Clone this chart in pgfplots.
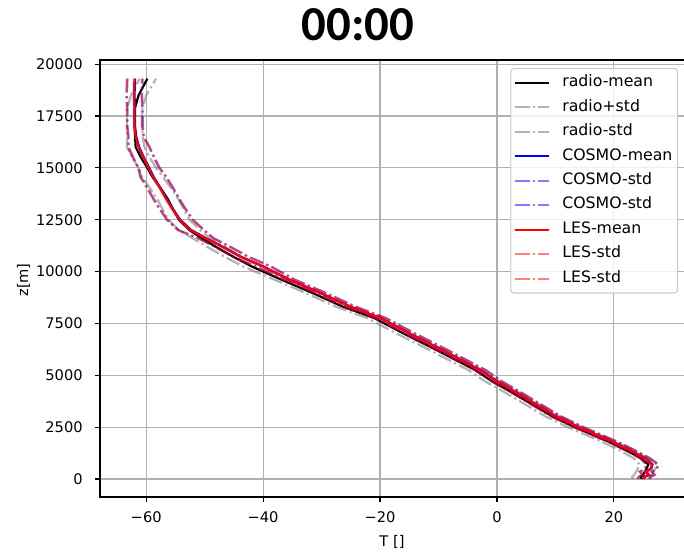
\documentclass[border=0pt]{standalone}
\usepackage{fontspec}
\setmainfont{DejaVu Sans}
\newfontfamily\titlefont{Carlito}
\usepackage{pgfplots}
\pgfplotsset{compat=1.18}
\usepackage{pgfplotstable}
\definecolor{gridgray}{HTML}{B0B0B0}
\definecolor{legendgray}{HTML}{CCCCCC}
\tikzset{mpldd/.style={dash pattern=on 14.1bp off 3.5bp on 2.2bp off 3.5bp}}

\pgfplotstableread{
z rm rp rn cm cp cn lm lp ln
0 24.8 26.3 23.3 25.1 26.1 24.1 25.0 26.0 24.0
100 24.6 26.1 23.1 25.3 26.3 24.3 25.2 26.2 24.2
200 25.0 26.5 23.5 26.0 27.0 25.0 25.9 26.9 24.9
350 25.3 26.8 23.8 25.5 26.5 24.5 25.4 26.4 24.4
500 25.6 27.1 24.1 26.4 27.4 25.4 26.3 27.3 25.3
700 25.9 27.4 24.4 26.6 27.6 25.6 26.5 27.5 25.5
1000 24.6 25.8 23.4 25.4 26.2 24.6 25.3 26.1 24.5
1400 22.0 23.2 20.8 22.7 23.5 21.9 22.6 23.4 21.8
1800 19.1 20.3 17.9 19.8 20.6 19.0 19.7 20.5 18.9
2500 13.3 14.5 12.1 14.0 14.8 13.2 13.9 14.7 13.1
3000 9.6 10.8 8.4 10.3 11.1 9.5 10.2 11.0 9.4
3600 6.0 7.2 4.8 6.7 7.5 5.9 6.6 7.4 5.8
4200 2.4 3.6 1.2 3.2 4.0 2.4 3.1 3.9 2.3
4700 -0.8 0.4 -2.0 0.1 0.9 -0.7 0.0 0.8 -0.8
5250 -3.7 -2.5 -4.9 -2.8 -1.9 -3.7 -2.9 -2.0 -3.8
6300 -10.9 -9.7 -12.1 -9.9 -9.0 -10.8 -10.0 -9.1 -10.9
7000 -15.9 -14.7 -17.1 -14.8 -13.9 -15.7 -14.9 -14.0 -15.8
7760 -21.0 -19.8 -22.2 -19.9 -19.0 -20.8 -20.0 -19.1 -20.9
8300 -26.3 -25.1 -27.5 -25.0 -24.1 -25.9 -25.1 -24.2 -26.0
9000 -31.8 -30.6 -33.0 -30.4 -29.5 -31.3 -30.5 -29.6 -31.4
9600 -36.8 -35.6 -38.0 -35.4 -34.5 -36.3 -35.5 -34.6 -36.4
10240 -41.9 -40.4 -43.4 -39.9 -38.6 -41.2 -40.0 -38.7 -41.3
10700 -45.0 -43.5 -46.5 -43.7 -42.4 -45.0 -43.8 -42.5 -45.1
11180 -48.0 -46.5 -49.5 -46.8 -45.5 -48.1 -46.9 -45.6 -48.2
11600 -50.5 -49.0 -52.0 -49.7 -48.4 -51.0 -49.8 -48.5 -51.1
12000 -52.6 -50.8 -54.4 -52.3 -50.1 -54.5 -52.4 -50.2 -54.6
12500 -54.4 -52.6 -56.2 -54.2 -52.0 -56.4 -54.3 -52.1 -56.5
13000 -55.4 -53.6 -57.2 -55.4 -53.2 -57.6 -55.5 -53.3 -57.7
13500 -56.3 -54.5 -58.1 -56.5 -54.3 -58.7 -56.6 -54.4 -58.8
14000 -57.5 -55.7 -59.3 -57.5 -55.3 -59.7 -57.6 -55.4 -59.8
14550 -58.9 -57.1 -60.7 -58.7 -56.5 -60.9 -58.8 -56.6 -61.0
15000 -59.8 -58.3 -61.3 -59.5 -57.7 -61.3 -59.6 -57.8 -61.4
15500 -60.9 -59.4 -62.4 -60.4 -58.6 -62.2 -60.5 -58.7 -62.3
16000 -61.8 -60.3 -63.3 -61.2 -59.4 -63.0 -61.3 -59.5 -63.1
16500 -61.9 -60.6 -63.2 -61.7 -60.4 -63.0 -61.8 -60.5 -63.1
17000 -62.0 -60.7 -63.3 -61.9 -60.6 -63.2 -62.0 -60.7 -63.3
17800 -62.0 -60.7 -63.3 -61.9 -60.6 -63.2 -62.0 -60.7 -63.3
18500 -61.3 -60.0 -62.6 -62.0 -60.7 -63.3 -62.1 -60.8 -63.4
19300 -59.8 -58.3 -61.1 -61.9 -60.6 -63.2 -62.0 -60.7 -63.3
}\prof

\begin{document}
\begin{tikzpicture}
\begin{axis}[
  at={(100bp,56bp)}, anchor=south west,
  scale only axis, width=588bp, height=437bp,
  xmin=-67.9, xmax=32.68, ymin=-870, ymax=20200,
  xtick={-60,-40,-20,0,20}, xticklabels={−60,−40,−20,0,20},
  ytick={0,2500,...,20000},
  scaled y ticks=false,
  /pgf/number format/.cd, 1000 sep={}, assume math mode=true, /pgfplots/.cd,
  grid=major, grid style={color=gridgray, line width=1.15bp},
  axis line style={line width=1.15bp},
  tick align=outside, major tick length=5.1bp,
  tick style={line width=1.15bp, black},
  xtick pos=bottom, ytick pos=left,
  ticklabel style={font=\fontsize{14.7}{17}\selectfont},
  xticklabel style={inner sep=0pt, anchor=north, yshift=-9bp},
  yticklabel style={inner sep=0pt, anchor=east, xshift=-12bp},
  legend cell align=left,
  legend style={at={(1,1)}, anchor=north east, xshift=-10bp, yshift=-8bp,
    draw=legendgray, line width=1.15bp, rounded corners=3bp,
    fill=white, fill opacity=0.8, text opacity=1,
    font=\fontsize{15.8}{18}\selectfont, inner xsep=3bp, inner ysep=5bp,
    row sep=6bp, nodes={text height=11bp, text depth=3.5bp},
    /tikz/every odd column/.append style={column sep=10.3bp}},
  legend image code/.code={\draw[mark repeat=2,mark phase=2,#1] plot coordinates {(0bp,0bp) (17bp,0bp) (34bp,0bp)};},
  no markers,
  every axis plot/.append style={line width=2.2bp},
]
\addplot[black] table[x=rm,y=z]{\prof}; \addlegendentry{radio-mean}
\addplot[gray, opacity=0.6, mpldd] table[x=rp,y=z]{\prof}; \addlegendentry{radio+std}
\addplot[gray, opacity=0.6, mpldd] table[x=rn,y=z]{\prof}; \addlegendentry{radio-std}
\addplot[blue] table[x=cm,y=z]{\prof}; \addlegendentry{COSMO-mean}
\addplot[blue, opacity=0.5, mpldd] table[x=cp,y=z]{\prof}; \addlegendentry{COSMO-std}
\addplot[blue, opacity=0.5, mpldd] table[x=cn,y=z]{\prof}; \addlegendentry{COSMO-std}
\addplot[red] table[x=lm,y=z]{\prof}; \addlegendentry{LES-mean}
\addplot[red, opacity=0.5, mpldd] table[x=lp,y=z]{\prof}; \addlegendentry{LES-std}
\addplot[red, opacity=0.5, mpldd] table[x=ln,y=z]{\prof}; \addlegendentry{LES-std}
\end{axis}
\node[anchor=base, inner sep=0pt, font=\titlefont\bfseries\fontsize{49}{56}\selectfont] at (358bp,512bp) {00:00};
\node[anchor=base, inner sep=0pt, font=\fontsize{14.7}{17}\selectfont] at (392bp,7bp) {T []};
\node[rotate=90, anchor=base, inner sep=0pt, font=\fontsize{14.7}{17}\selectfont] at (28bp,273bp) {z[m]};
\pgfresetboundingbox
\path[use as bounding box] (0,0) rectangle (684bp,553bp);
\end{tikzpicture}
\end{document}
